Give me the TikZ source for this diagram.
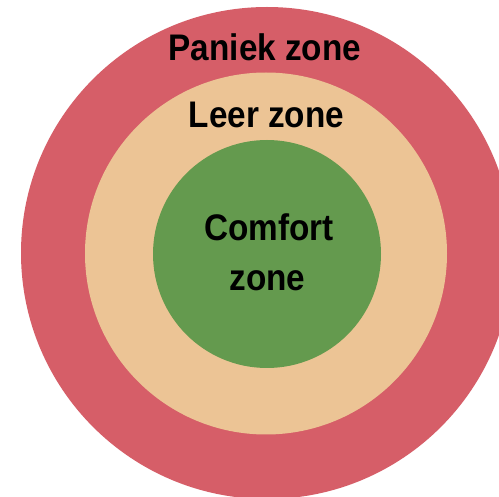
\documentclass[tikz,border=0pt]{standalone}
\usepackage{fontspec}
\setmainfont{Liberation Sans}
\newfontfamily\zonefont[FakeStretch=0.9]{Liberation Sans}
\definecolor{panic}{RGB}{214,94,104}
\definecolor{learn}{RGB}{236,196,149}
\definecolor{comfort}{RGB}{100,154,78}
\tikzset{
  zone/.style={circle, inner sep=0pt, draw=none},
  lbl/.style={anchor=base, inner sep=0pt, font=\zonefont\fontsize{37}{44}\selectfont\bfseries, text=black}
}
\begin{document}
\begin{tikzpicture}[x=1pt,y=-1pt]
\useasboundingbox (0,0) rectangle (499,497);
\fill[white] (0,0) rectangle (499,497);
\clip (0,0) rectangle (499,497);
\node[zone, fill=panic, minimum size=492pt] (outer) at (267,253) {};
\node[zone, fill=learn, minimum size=362pt] (middle) at (266,253.5) {};
\node[zone, fill=comfort, minimum size=228pt] (inner) at (267,254) {};
\node[lbl] (paniek) at (265,61) {Paniek zone};
\node[lbl] (leer) at (266.5,128) {Leer zone};
\node[lbl] (comf) at (269,241) {Comfort};
\node[lbl] (zone) at (267.5,291) {zone};
\end{tikzpicture}
\end{document}
